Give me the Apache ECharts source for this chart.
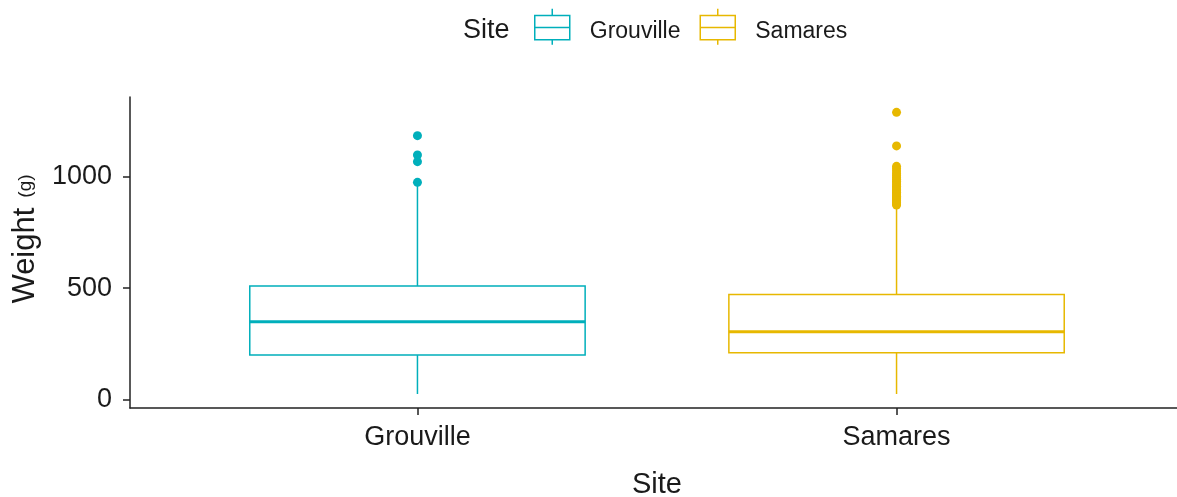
<!DOCTYPE html>
<html>
<head>
<meta charset="utf-8">
<title>Weight by Site</title>
<script src="https://cdn.jsdelivr.net/npm/echarts@6/dist/echarts.min.js"></script>
<style>
  html, body { margin: 0; padding: 0; background: #ffffff; }
  #chart { width: 1177px; height: 497px; }
</style>
</head>
<body>
<div id="chart"></div>
<script>
// Sites on the x axis
const categories = ['Grouville', 'Samares'];
// Box summaries: lower whisker, Q1, median, Q3, upper whisker (g)
const grouvilleBox = [24, 199, 349, 510, 965];
const samaresBox = [24, 210, 304, 472, 860];
// Points beyond the whiskers (g)
const grouvilleOutliers = [976, 1069, 1099, 1186];
const samaresOutliers = [874, 879, 884, 888, 893, 897, 902, 908, 913, 919, 925, 931, 938,
  944, 951, 958, 965, 973, 981, 990, 998, 1007, 1016, 1027, 1038, 1048, 1140, 1291];
// Y axis ticks
const yTicks = [0, 500, 1000];

const COLORS = { Grouville: '#00AFBB', Samares: '#E7B800' };
const BOX_WIDTH = 0.7;          // in x-axis units (categories sit at 1 and 2)
const FONT = "'Liberation Sans', Arial, sans-serif";
const INK = '#1a1a1a';

function renderBox(params, api) {
  const x = api.value(0);
  const pt = i => api.coord([x, api.value(i)]);
  const lo = pt(1), q1 = pt(2), md = pt(3), q3 = pt(4), hi = pt(5);
  const half = api.size([BOX_WIDTH, 0])[0] / 2;
  const color = api.visual('color');
  const thin = { stroke: color, lineWidth: 1.5, fill: null };
  return {
    type: 'group',
    children: [
      { type: 'line', shape: { x1: lo[0], y1: lo[1], x2: q1[0], y2: q1[1] }, style: thin },
      { type: 'line', shape: { x1: q3[0], y1: q3[1], x2: hi[0], y2: hi[1] }, style: thin },
      { type: 'rect', shape: { x: md[0] - half, y: q3[1], width: half * 2, height: q1[1] - q3[1] },
        style: { fill: '#ffffff', stroke: color, lineWidth: 1.5 } },
      { type: 'line', shape: { x1: md[0] - half, y1: md[1], x2: md[0] + half, y2: md[1] },
        style: { stroke: color, lineWidth: 3 } }
    ]
  };
}

// Legend key: a small box with median line and whisker stubs
const boxIcon = 'path://M17.5,0L17.5,6.7M0,6.7L35,6.7L35,31L0,31ZM0,18.7L35,18.7M17.5,31L17.5,36';

function xAxisDef(visible) {
  return {
    type: 'value',
    min: 0.4,
    max: 2.6,
    show: visible,
    position: 'bottom',
    name: visible ? 'Site' : '',
    nameLocation: 'middle',
    nameGap: 62,
    nameTextStyle: { fontFamily: FONT, fontSize: 29, color: INK },
    axisLine: { show: true, onZero: false, lineStyle: { color: '#222', width: 1.5 } },
    axisTick: { show: true, length: 7, customValues: [1, 2], lineStyle: { color: '#222', width: 1.5 } },
    axisLabel: {
      show: true,
      customValues: [1, 2],
      margin: 16,
      fontFamily: FONT,
      fontSize: 27,
      color: INK,
      formatter: v => categories[Math.round(v) - 1] || ''
    },
    splitLine: { show: false }
  };
}

const chart = echarts.init(document.getElementById('chart'), null, { renderer: 'canvas' });

chart.setOption({
  animation: false,
  backgroundColor: '#ffffff',
  textStyle: { fontFamily: FONT },
  grid: { left: 130, right: -7, top: 97, bottom: 89, outerBoundsMode: 'none' },
  graphic: [{
    type: 'text',
    left: 463,
    top: 17,
    style: { text: 'Site', fontFamily: FONT, fontSize: 27, fill: INK }
  }],
  legend: {
    left: 534,
    top: 8,
    padding: 0,
    itemWidth: 35,
    itemHeight: 36,
    itemGap: 19,
    selectedMode: false,
    formatter: name => '{sp|}{t|' + name + '}',
    textStyle: {
      fontFamily: FONT,
      fontSize: 23,
      color: INK,
      rich: {
        sp: { width: 15, lineHeight: 33 },
        t: { fontFamily: FONT, fontSize: 23, color: INK, lineHeight: 27, verticalAlign: 'bottom' }
      }
    },
    data: categories.map(name => ({
      name,
      icon: boxIcon,
      itemStyle: { color: '#ffffff', borderColor: COLORS[name], borderWidth: 1.5 }
    }))
  },
  xAxis: [xAxisDef(true), xAxisDef(false)],
  yAxis: {
    type: 'value',
    min: -39,
    max: 1360,
    name: '{s|}{a|Weight}{sp|}{b|(g)}',
    nameLocation: 'middle',
    nameRotate: 90,
    nameGap: 88,
    nameTextStyle: {
      rich: {
        s: { width: 27 },
        a: { fontFamily: FONT, fontSize: 31, color: INK },
        sp: { width: 10 },
        b: { fontFamily: FONT, fontSize: 19, color: INK }
      }
    },
    axisLine: { show: true, lineStyle: { color: '#222', width: 1.5 } },
    axisTick: { show: true, length: 7, customValues: yTicks, lineStyle: { color: '#222', width: 1.5 } },
    axisLabel: {
      customValues: yTicks,
      margin: 18,
      fontFamily: FONT,
      fontSize: 27,
      color: INK,
      formatter: v => String(v)
    },
    splitLine: { show: false }
  },
  series: [
    {
      name: 'Grouville',
      type: 'custom',
      xAxisIndex: 0,
      renderItem: renderBox,
      itemStyle: { color: COLORS.Grouville },
      encode: { x: 0, y: [1, 2, 3, 4, 5] },
      data: [[1].concat(grouvilleBox)]
    },
    {
      name: 'Samares',
      type: 'custom',
      xAxisIndex: 1,
      renderItem: renderBox,
      itemStyle: { color: COLORS.Samares },
      encode: { x: 0, y: [1, 2, 3, 4, 5] },
      data: [[2].concat(samaresBox)]
    },
    {
      name: 'Grouville',
      type: 'scatter',
      xAxisIndex: 0,
      symbolSize: 9,
      itemStyle: { color: COLORS.Grouville, opacity: 1 },
      data: grouvilleOutliers.map(v => [1, v])
    },
    {
      name: 'Samares',
      type: 'scatter',
      xAxisIndex: 1,
      symbolSize: 9,
      itemStyle: { color: COLORS.Samares, opacity: 1 },
      data: samaresOutliers.map(v => [2, v])
    }
  ]
});
</script>
</body>
</html>
